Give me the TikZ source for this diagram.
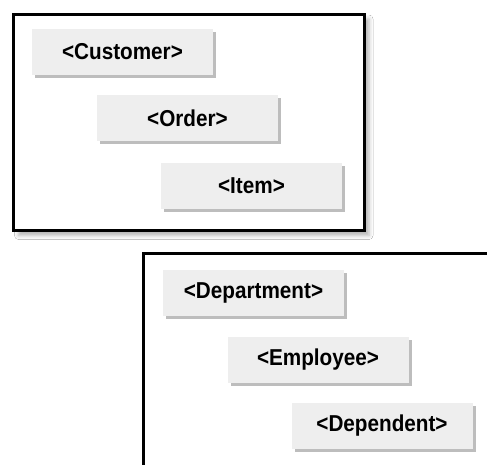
\documentclass[tikz,border=0pt]{standalone}
\usepackage{fontspec}
\setmainfont{Liberation Sans}
\usetikzlibrary{shadows,shadows.blur}

\definecolor{tagfill}{HTML}{EEEEEE}
\definecolor{tagshade}{HTML}{BDBDBD}

\tikzset{
  tagbox/.style={fill=tagfill,minimum width=181pt,minimum height=46pt,inner sep=0pt,
    drop shadow={shadow xshift=3pt,shadow yshift=-3pt,fill=tagshade,opacity=1},
    font=\fontsize{23}{27}\selectfont\bfseries},
  tableframe/.style={draw=black,line width=3pt,fill=white,
    blur shadow={shadow xshift=5pt,shadow yshift=-5pt,shadow blur radius=4pt,
      shadow opacity=30,shadow blur extra rounding=0pt}}
}

\newcommand{\tagtext}[1]{\scalebox{0.9}[1]{#1}}

\begin{document}
\begin{tikzpicture}[x=1pt,y=-1pt]
  \clip (0,0) rectangle (487,464);
  \fill[white] (0,0) rectangle (487,464);
  % first group
  \draw[tableframe] (13.5,14) rectangle (364,230.5);
  \node[tagbox] (customer) at (122.5,52) {\tagtext{<Customer>}};
  \node[tagbox] (order) at (187.5,118) {\tagtext{<Order>}};
  \node[tagbox] (item) at (251.5,186) {\tagtext{<Item>}};
  % second group
  \draw[tableframe] (143.5,253.5) rectangle (520,500);
  \node[tagbox] (department) at (253.5,293) {\tagtext{<Department>}};
  \node[tagbox] (employee) at (318,360) {\tagtext{<Employee>}};
  \node[tagbox] (dependent) at (382,426) {\tagtext{<Dependent>}};
\end{tikzpicture}
\end{document}
